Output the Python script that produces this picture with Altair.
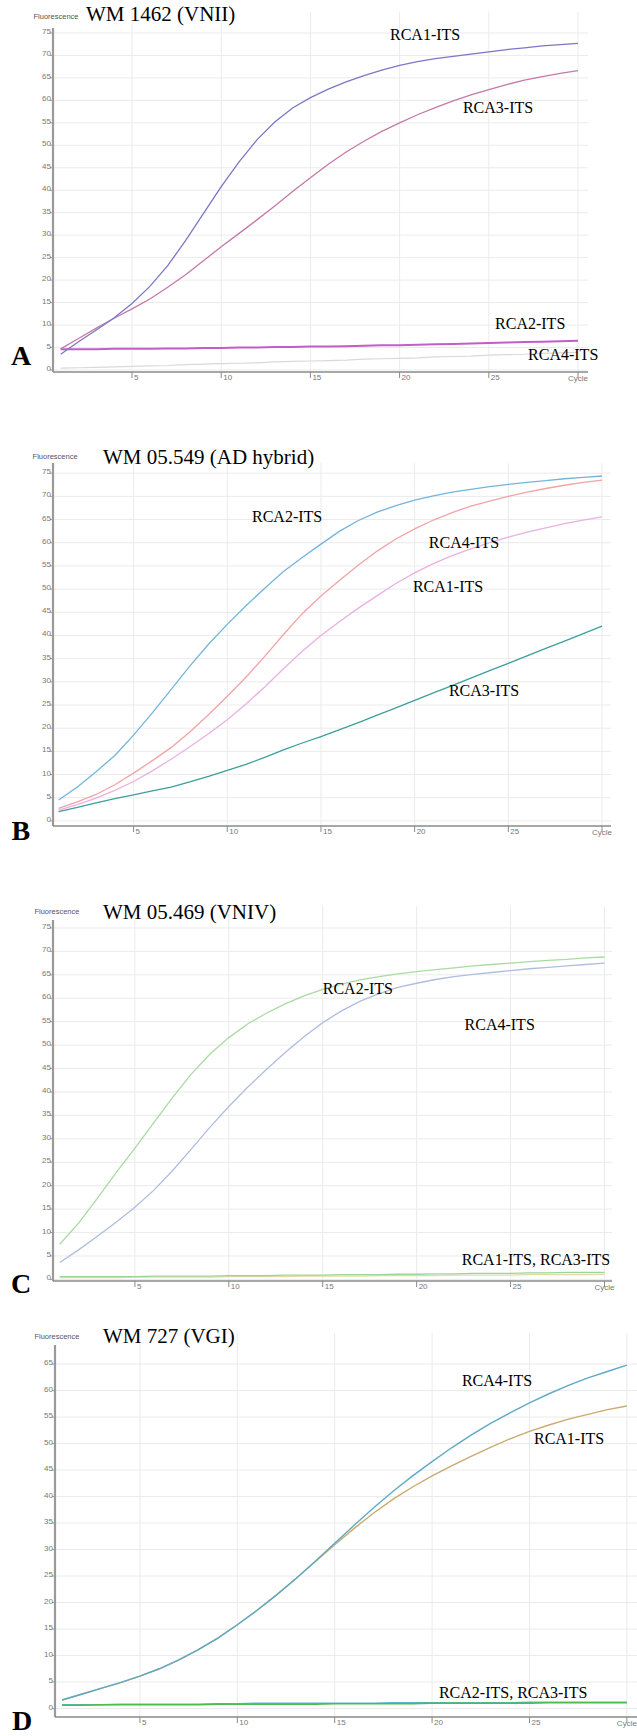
import altair as alt
import pandas as pd

W, H = 637, 1736
cycles = list(range(1, 31))

# ---------------- data ----------------
# Panel A: WM 1462 (VNII)
a_rca1 = [3.5, 6.3, 8.9, 11.6, 14.8, 18.6, 23.2, 28.8, 34.8, 40.8, 46.3, 51.2, 55.2, 58.3, 60.6, 62.5, 64.1, 65.5, 66.7, 67.8,
          68.6, 69.3, 69.8, 70.3, 70.8, 71.3, 71.7, 72.1, 72.4, 72.7]
a_rca3 = [4.7, 7.0, 9.3, 11.5, 13.6, 15.8, 18.4, 21.2, 24.3, 27.4, 30.4, 33.4, 36.5, 39.7, 42.8, 45.8, 48.5, 50.9, 53.1, 55.0,
          56.8, 58.4, 59.9, 61.2, 62.4, 63.5, 64.5, 65.3, 66.0, 66.6]
a_rca2 = [4.6, 4.6, 4.6, 4.7, 4.7, 4.7, 4.8, 4.8, 4.9, 4.9, 5.0, 5.0, 5.1, 5.1, 5.2, 5.2, 5.3, 5.4, 5.5, 5.5,
          5.6, 5.7, 5.8, 5.9, 6.0, 6.1, 6.2, 6.3, 6.4, 6.5]
a_rca4 = [0.4, 0.5, 0.6, 0.7, 0.8, 0.9, 1.0, 1.2, 1.3, 1.4, 1.5, 1.6, 1.8, 1.9, 2.0, 2.1, 2.2, 2.4, 2.5, 2.6,
          2.7, 2.9, 3.0, 3.1, 3.3, 3.4, 3.5, 3.7, 3.8, 3.9]

# Panel B: WM 05.549 (AD hybrid)
b_rca2 = [4.5, 7.3, 10.6, 14.1, 18.5, 23.3, 28.3, 33.4, 38.1, 42.4, 46.4, 50.2, 53.8, 56.8, 59.7, 62.5, 64.8, 66.6, 68.0, 69.2,
          70.1, 70.9, 71.5, 72.1, 72.6, 73.0, 73.4, 73.8, 74.1, 74.4]
b_rca4 = [2.7, 4.1, 5.7, 7.8, 10.3, 13.0, 15.8, 19.2, 22.9, 26.9, 31.0, 35.5, 40.2, 44.7, 48.5, 51.9, 55.2, 58.2, 60.8, 63.0,
          64.9, 66.5, 67.9, 69.0, 70.0, 70.9, 71.7, 72.4, 73.0, 73.5]
b_rca1 = [2.3, 3.5, 4.9, 6.6, 8.5, 10.8, 13.3, 16.0, 18.8, 21.8, 25.2, 28.9, 32.8, 36.6, 40.0, 43.0, 45.9, 48.6, 51.2, 53.5,
          55.5, 57.2, 58.7, 60.0, 61.2, 62.3, 63.2, 64.1, 64.9, 65.6]
b_rca3 = [2.0, 2.9, 3.9, 4.8, 5.6, 6.5, 7.3, 8.4, 9.6, 10.9, 12.2, 13.7, 15.3, 16.8, 18.2, 19.7, 21.2, 22.8, 24.4, 26.0,
          27.6, 29.2, 30.8, 32.4, 34.0, 35.6, 37.2, 38.8, 40.4, 42.0]

# Panel C: WM 05.469 (VNIV)
c_rca2 = [7.5, 12.0, 17.3, 22.8, 28.0, 33.4, 38.8, 43.8, 48.1, 51.6, 54.5, 56.8, 58.8, 60.5, 61.9, 63.0, 63.9, 64.6, 65.2, 65.7,
          66.1, 66.5, 66.9, 67.2, 67.5, 67.8, 68.1, 68.3, 68.6, 68.8]
c_rca4 = [3.6, 6.3, 9.2, 12.2, 15.4, 19.0, 23.2, 27.8, 32.5, 36.9, 41.0, 44.8, 48.4, 51.8, 54.8, 57.3, 59.4, 61.0, 62.3, 63.2,
          64.0, 64.6, 65.1, 65.5, 65.9, 66.3, 66.6, 66.9, 67.2, 67.5]
c_rca1 = [0.6, 0.6, 0.6, 0.6, 0.6, 0.7, 0.7, 0.7, 0.7, 0.8, 0.8, 0.8, 0.9, 0.9, 0.9, 1.0, 1.0, 1.0, 1.1, 1.1,
          1.2, 1.2, 1.3, 1.3, 1.3, 1.4, 1.4, 1.5, 1.5, 1.5]
c_rca3 = [0.4, 0.4, 0.4, 0.4, 0.5, 0.5, 0.5, 0.5, 0.5, 0.6, 0.6, 0.6, 0.6, 0.7, 0.7, 0.7, 0.7, 0.8, 0.8, 0.8,
          0.8, 0.9, 0.9, 0.9, 0.9, 1.0, 1.0, 1.0, 1.0, 1.1]

# Panel D: WM 727 (VGI)
d_rca4 = [1.6, 2.7, 3.8, 4.9, 6.1, 7.5, 9.2, 11.1, 13.3, 15.8, 18.5, 21.4, 24.5, 27.8, 31.2, 34.6, 37.9, 41.0, 43.9, 46.6,
          49.2, 51.6, 53.8, 55.8, 57.7, 59.4, 61.0, 62.4, 63.6, 64.8]
d_rca1 = [1.6, 2.7, 3.8, 4.9, 6.1, 7.5, 9.2, 11.1, 13.3, 15.8, 18.5, 21.4, 24.5, 27.7, 30.9, 34.0, 36.9, 39.5, 41.8, 43.9,
          45.8, 47.6, 49.3, 50.9, 52.3, 53.5, 54.6, 55.5, 56.4, 57.1]
d_rca2 = [0.6, 0.6, 0.7, 0.7, 0.7, 0.7, 0.7, 0.7, 0.8, 0.8, 0.8, 0.8, 0.8, 0.8, 0.9, 0.9, 0.9, 0.9, 0.9, 1.0,
          1.0, 1.0, 1.0, 1.0, 1.0, 1.1, 1.1, 1.1, 1.1, 1.1]
d_rca3 = [0.7, 0.7, 0.7, 0.8, 0.8, 0.8, 0.8, 0.8, 0.9, 0.9, 1.0, 1.0, 1.0, 1.0, 1.0, 1.0, 1.0, 1.1, 1.1, 1.1,
          1.1, 1.1, 1.1, 1.1, 1.2, 1.2, 1.2, 1.2, 1.2, 1.2]

titles = ["WM 1462 (VNII)", "WM 05.549 (AD hybrid)", "WM 05.469 (VNIV)", "WM 727 (VGI)"]
letters = ["A", "B", "C", "D"]
x_ticks = [5, 10, 15, 20, 25, 30]
x_tick_labels = ["5", "10", "15", "20", "25", "Cycle"]
y_ticks_75 = list(range(0, 80, 5))
y_ticks_65 = list(range(0, 70, 5))

SERIF = "Liberation Serif"
SANS = "Liberation Sans"
AXIS_GREY = "#9a9a9a"
TICK_TEXT = "#777777"

panels = [
    dict(x0=53, x1=588, c0=0.57, c1=30.56, ybot=372, ytop=28, v0=-0.45, v1=76.1, gtop=79.7, yt=y_ticks_75,
         series=[("RCA4-ITS", a_rca4, "#d9d9d9", 1.2), ("RCA2-ITS", a_rca2, "#c35dc8", 2.0),
                 ("RCA3-ITS", a_rca3, "#c47aa8", 1.3), ("RCA1-ITS", a_rca1, "#7a78c4", 1.3)],
         labels=[("RCA1-ITS", 19.46, 74.56), ("RCA3-ITS", 23.55, 58.31), ("RCA2-ITS", 25.35, 10.23),
                 ("RCA4-ITS", 27.2, 3.33)],
         fl=(0.74, 78.56), title=(2.42, 79.0), letter=(-1.22, 2.89)),
    dict(x0=53, x1=611, c0=0.70, c1=30.48, ybot=826, ytop=463, v0=-1.1, v1=77.2, gtop=77.2, yt=y_ticks_75,
         series=[("RCA3-ITS", b_rca3, "#3c9f9c", 1.3), ("RCA1-ITS", b_rca1, "#eab0e4", 1.3),
                 ("RCA4-ITS", b_rca4, "#f2a3a6", 1.3), ("RCA2-ITS", b_rca2, "#74b4dc", 1.3)],
         labels=[("RCA2-ITS", 11.32, 65.51), ("RCA4-ITS", 20.76, 59.9), ("RCA1-ITS", 19.91, 50.4),
                 ("RCA3-ITS", 21.83, 27.95)],
         fl=(0.81, 78.46), title=(3.37, 78.24), letter=(-1.01, -2.48)),
    dict(x0=53, x1=612, c0=0.64, c1=30.4, ybot=1281, ytop=920, v0=-0.34, v1=76.7, gtop=79.7, yt=y_ticks_75,
         series=[("RCA3-ITS", c_rca3, "#e3dba8", 1.3), ("RCA1-ITS", c_rca1, "#9bd59b", 1.3),
                 ("RCA4-ITS", c_rca4, "#aebde0", 1.3), ("RCA2-ITS", c_rca2, "#a9dba2", 1.3)],
         labels=[("RCA2-ITS", 15.0, 61.97), ("RCA4-ITS", 22.55, 54.29), ("RCA1-ITS, RCA3-ITS", 22.4, 4.14)],
         fl=(0.85, 78.4), title=(3.30, 78.19), letter=(-1.06, -1.19)),
    dict(x0=55, x1=637, c0=0.64, c1=30.52, ybot=1717, ytop=1345, v0=-1.6, v1=68.6, gtop=70.9, yt=y_ticks_65,
         series=[("RCA3-ITS", d_rca3, "#56b6c6", 1.5), ("RCA2-ITS", d_rca2, "#4cbd4c", 1.5),
                 ("RCA1-ITS", d_rca1, "#c9ab6e", 1.4), ("RCA4-ITS", d_rca4, "#5eaac6", 1.4)],
         labels=[("RCA4-ITS", 21.53, 61.8), ("RCA1-ITS", 25.23, 50.85), ("RCA2-ITS, RCA3-ITS", 20.35, 2.93)],
         fl=(0.74, 70.1), title=(3.10, 70.1), letter=(-1.05, -2.6)),
]


def text_layer(txt, cx, vy, xs, ys, font, size, weight="normal", color="black", align="left"):
    return alt.Chart(pd.DataFrame({"t": [txt]})).mark_text(
        font=font, fontSize=size, fontWeight=weight, color=color, align=align, baseline="middle"
    ).encode(
        x=alt.XDatum(cx, scale=xs, axis=None),
        y=alt.YDatum(vy, scale=ys, axis=None),
        text="t:N",
    )


def make_panel(i, p):
    xs = alt.Scale(domain=[p["c0"], p["c1"]], range=[p["x0"], p["x1"]], nice=False, zero=False)
    ys = alt.Scale(domain=[p["v0"], p["v1"]], range=[p["ybot"], p["ytop"]], nice=False, zero=False)

    xdf = pd.DataFrame({"c": x_ticks, "lab": x_tick_labels})
    ydf = pd.DataFrame({"v": p["yt"], "lab": [str(v) for v in p["yt"]]})

    layers = []
    # grid
    layers.append(alt.Chart(xdf).mark_rule(color="#ebebeb", strokeWidth=1).encode(
        x=alt.X("c:Q", scale=xs, axis=None),
        y=alt.YDatum(p["v0"], scale=ys, axis=None),
        y2=alt.datum(p["gtop"]),
    ))
    layers.append(alt.Chart(ydf).mark_rule(color="#ebebeb", strokeWidth=1).encode(
        y=alt.Y("v:Q", scale=ys, axis=None),
        x=alt.XDatum(p["c0"], scale=xs, axis=None),
        x2=alt.datum(p["c1"]),
    ))

    # data lines
    for name, vals, col, sw in p["series"]:
        df = pd.DataFrame({"cycle": cycles, "value": vals})
        layers.append(
            alt.Chart(df).mark_line(color=col, strokeWidth=sw).encode(
                x=alt.X("cycle:Q", scale=xs, axis=None),
                y=alt.Y("value:Q", scale=ys, axis=None),
            )
        )

    # axes (drawn through the panel scales)
    layers.append(alt.Chart(pd.DataFrame({"k": [0]})).mark_rule(color=AXIS_GREY, strokeWidth=2.2).encode(
        x=alt.XDatum(p["c0"], scale=xs, axis=None),
        y=alt.YDatum(p["v0"], scale=ys, axis=None),
        y2=alt.datum(p["v1"]),
    ))
    layers.append(alt.Chart(pd.DataFrame({"k": [0]})).mark_rule(color="#8a8a8a", strokeWidth=1.4).encode(
        y=alt.YDatum(p["v0"], scale=ys, axis=None),
        x=alt.XDatum(p["c0"], scale=xs, axis=None),
        x2=alt.datum(p["c1"]),
    ))
    layers.append(alt.Chart(ydf).mark_rule(color=AXIS_GREY, strokeWidth=1, x2Offset=-3).encode(
        y=alt.Y("v:Q", scale=ys, axis=None),
        x=alt.XDatum(p["c0"], scale=xs, axis=None),
        x2=alt.datum(p["c0"]),
    ))
    layers.append(alt.Chart(ydf).mark_text(font=SANS, fontSize=8, color=TICK_TEXT, align="right",
                                           baseline="middle", dx=-2, dy=-1).encode(
        y=alt.Y("v:Q", scale=ys, axis=None),
        x=alt.XDatum(p["c0"], scale=xs, axis=None),
        text="lab:N",
    ))
    xd_ticks = xdf[xdf["c"] < 30]
    layers.append(alt.Chart(xdf).mark_rule(color="#8a8a8a", strokeWidth=1, y2Offset=6).encode(
        x=alt.X("c:Q", scale=xs, axis=None),
        y=alt.YDatum(p["v0"], scale=ys, axis=None),
        y2=alt.datum(p["v0"]),
    ))
    layers.append(alt.Chart(xd_ticks).mark_text(font=SANS, fontSize=8, color=TICK_TEXT, align="left",
                                                baseline="top", dx=2, dy=2).encode(
        x=alt.X("c:Q", scale=xs, axis=None),
        y=alt.YDatum(p["v0"], scale=ys, axis=None),
        text="lab:N",
    ))
    layers.append(alt.Chart(xdf[xdf["c"] == 30]).mark_text(font=SANS, fontSize=8, color=TICK_TEXT,
                                                          align="center", baseline="top", dy=3).encode(
        x=alt.X("c:Q", scale=xs, axis=None),
        y=alt.YDatum(p["v0"], scale=ys, axis=None),
        text="lab:N",
    ))

    # annotations
    for txt, cx, vy in p["labels"]:
        layers.append(text_layer(txt, cx, vy, xs, ys, SERIF, 16))
    layers.append(text_layer(titles[i], p["title"][0], p["title"][1], xs, ys, SERIF, 21))
    layers.append(text_layer("Fluorescence", p["fl"][0], p["fl"][1], xs, ys, SANS, 7.5,
                             color="#555555", align="center"))
    layers.append(text_layer(letters[i], p["letter"][0], p["letter"][1], xs, ys, SERIF, 28,
                             weight="bold", align="center"))
    return alt.layer(*layers)


chart = alt.layer(*[make_panel(i, p) for i, p in enumerate(panels)]).resolve_scale(
    x="independent", y="independent"
).properties(
    width=W, height=H, padding=0, autosize=alt.AutoSizeParams(type="none"), background="white"
).configure_view(stroke=None)

chart.save("out.html", embed_options={"renderer": "svg", "actions": False})
